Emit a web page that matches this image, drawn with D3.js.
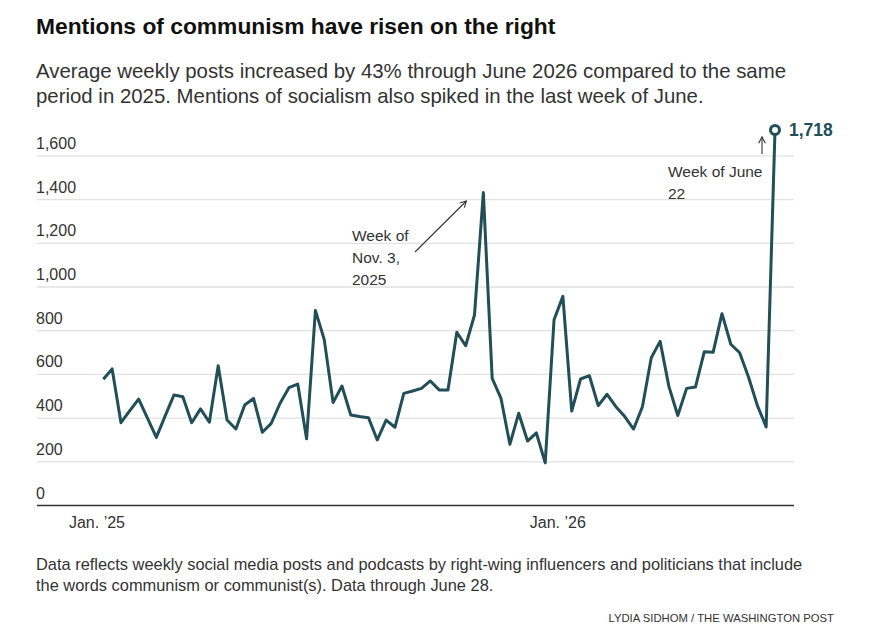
<!DOCTYPE html>
<html>
<head>
<meta charset="utf-8">
<script src="https://cdn.jsdelivr.net/npm/d3@7"></script>
<style>
  body { margin: 0; background: #fff; }
  svg { display: block; font-family: "Liberation Sans", Arial, sans-serif; }
</style>
</head>
<body>
<script>
// Weekly mentions, starting week of Jan. 6, 2025.
const firstWeek = "2025-01-06";
const weeklyPosts = [
  578, 625, 379, 434, 487, 400, 312, 410, 506, 498,
  379, 442, 381, 640, 391, 350, 460, 490, 335, 376,
  468, 539, 556, 305, 893, 759, 471, 547, 414, 407,
  402, 300, 391, 358, 513, 524, 536, 570, 529, 529,
  793, 731, 872, 1432, 582, 490, 280, 422, 295, 332,
  195, 850, 957, 432, 579, 594, 457, 509, 452, 407,
  350, 452, 676, 751, 544, 412, 536, 542, 704, 701,
  878, 738, 699, 588, 458, 360, 1718
];
const yTicks = [0, 200, 400, 600, 800, 1000, 1200, 1400, 1600];
const xTicks = ["2025-01-01", "2026-01-01"];
const xTickLabels = ["Jan. \u201925", "Jan. \u201926"];

const title = "Mentions of communism have risen on the right";
const subtitle = [
  "Average weekly posts increased by 43% through June 2026 compared to the same",
  "period in 2025. Mentions of socialism also spiked in the last week of June."
];
const note = [
  "Data reflects weekly social media posts and podcasts by right-wing influencers and politicians that include",
  "the words communism or communist(s). Data through June 28."
];
const credit = "LYDIA SIDHOM / THE WASHINGTON POST";

const width = 869;
const height = 641;
const lineColor = "#224f57";
const textColor = "#333";

const parse = d3.utcParse("%Y-%m-%d");
const start = parse(firstWeek);
const data = weeklyPosts.map((v, i) => ({ date: d3.utcDay.offset(start, i * 7), value: v }));

const x = d3.scaleUtc()
  .domain([data[0].date, data[data.length - 1].date])
  .range([103.3, 775]);
const y = d3.scaleLinear().domain([0, 1800]).range([505.5, 112.2]);

const plotLeft = 37;
const plotRight = 794;

const svg = d3.select("body").append("svg")
  .attr("width", width)
  .attr("height", height);

// Title and subtitle.
svg.append("text")
  .attr("x", 36).attr("y", 34)
  .attr("font-size", 22.8).attr("font-weight", "bold").attr("fill", "#111")
  .text(title);

svg.append("g").selectAll("text").data(subtitle).join("text")
  .attr("x", 36).attr("y", (d, i) => 78 + i * 25)
  .attr("font-size", 20.4).attr("fill", textColor)
  .text((d) => d);

// Gridlines and y labels.
const gGrid = svg.append("g");
gGrid.selectAll("line").data(yTicks.filter((d) => d > 0)).join("line")
  .attr("x1", plotLeft).attr("x2", plotRight)
  .attr("y1", (d) => y(d)).attr("y2", (d) => y(d))
  .attr("stroke", "#e1e1e1").attr("stroke-width", 1.3);

gGrid.selectAll("text").data(yTicks).join("text")
  .attr("x", 36).attr("y", (d) => y(d) - 7)
  .attr("font-size", 16).attr("fill", textColor)
  .text((d) => d3.format(",")(d));

// Baseline.
svg.append("line")
  .attr("x1", plotLeft).attr("x2", plotRight)
  .attr("y1", y(0)).attr("y2", y(0))
  .attr("stroke", "#333").attr("stroke-width", 1.3);

// X labels.
svg.append("g").selectAll("text").data(xTicks).join("text")
  .attr("x", (d) => x(parse(d)))
  .attr("y", 528)
  .attr("text-anchor", "middle")
  .attr("font-size", 16).attr("fill", textColor)
  .text((d, i) => xTickLabels[i]);

// Line.
const line = d3.line()
  .x((d) => x(d.date))
  .y((d) => y(d.value))
  .curve(d3.curveLinear);

svg.append("path")
  .datum(data)
  .attr("fill", "none")
  .attr("stroke", lineColor)
  .attr("stroke-width", 3)
  .attr("stroke-linejoin", "round")
  .attr("d", line);

// Last point marker and label.
const last = data[data.length - 1];
svg.append("circle")
  .attr("cx", x(last.date)).attr("cy", y(last.value))
  .attr("r", 4.5)
  .attr("fill", "#fff").attr("stroke", lineColor).attr("stroke-width", 3);

svg.append("text")
  .attr("x", x(last.date) + 14).attr("y", y(last.value) + 6)
  .attr("font-size", 17.5).attr("font-weight", "bold").attr("fill", lineColor)
  .text(d3.format(",")(last.value));

// Annotations.
function arrow(x1, y1, x2, y2) {
  const a = Math.atan2(y2 - y1, x2 - x1);
  const s = 7;
  const g = svg.append("g").attr("stroke", "#333").attr("fill", "none").attr("stroke-width", 1.1);
  g.append("line").attr("x1", x1).attr("y1", y1).attr("x2", x2).attr("y2", y2);
  g.append("path").attr("d",
    `M${x2 - s * Math.cos(a - 0.5)},${y2 - s * Math.sin(a - 0.5)}L${x2},${y2}L${x2 - s * Math.cos(a + 0.5)},${y2 - s * Math.sin(a + 0.5)}`);
}

const peak = data[43];
svg.append("g").selectAll("text").data(["Week of", "Nov. 3,", "2025"]).join("text")
  .attr("x", 352).attr("y", (d, i) => 241 + i * 22)
  .attr("font-size", 15.5).attr("fill", textColor)
  .text((d) => d);
arrow(415, 252, x(peak.date) - 17, 201);

svg.append("g").selectAll("text").data(["Week of June", "22"]).join("text")
  .attr("x", 668).attr("y", (d, i) => 177 + i * 22)
  .attr("font-size", 15.5).attr("fill", textColor)
  .text((d) => d);
arrow(762, 154, 762, 137);

// Note and credit.
svg.append("g").selectAll("text").data(note).join("text")
  .attr("x", 36).attr("y", (d, i) => 570 + i * 21)
  .attr("font-size", 16.4).attr("fill", textColor)
  .text((d) => d);

svg.append("text")
  .attr("x", 834).attr("y", 622)
  .attr("text-anchor", "end")
  .attr("font-size", 11.3).attr("fill", textColor)
  .text(credit);
</script>
</body>
</html>
